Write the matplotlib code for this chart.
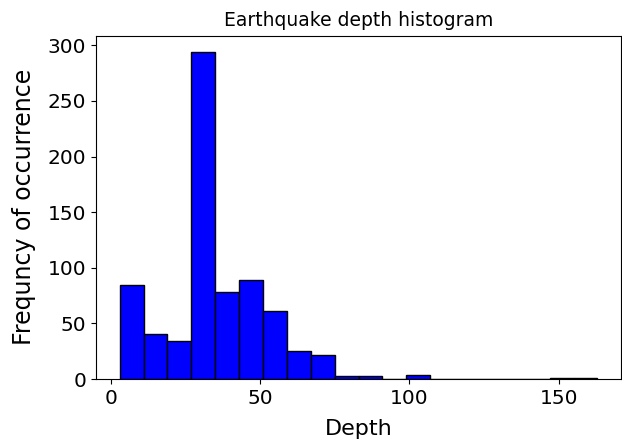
import matplotlib
matplotlib.use("Agg")
import matplotlib.pyplot as plt
import numpy as np

bin_edges = [3, 11, 19, 27, 35, 43, 51, 59, 67, 75, 83, 91, 99, 107, 115, 123, 131, 139, 147, 155, 163]
counts = [85, 41, 34, 294, 78, 89, 61, 25, 22, 3, 3, 0, 4, 0, 0, 0, 0, 0, 1, 1]
xticks = [0, 50, 100, 150]
yticks = [0, 50, 100, 150, 200, 250, 300]

edges = np.array(bin_edges, dtype=float)
centers = (edges[:-1] + edges[1:]) / 2

fig = plt.figure(figsize=(6.22, 4.45), dpi=100)
ax = fig.add_axes([0.154, 0.148, 0.845, 0.772])
ax.hist(centers, bins=edges, weights=counts, color="blue", edgecolor="black")
ax.set_xticks(xticks)
ax.set_yticks(yticks)
ax.tick_params(labelsize=14.5)
ax.set_xlabel("Depth", fontsize=16, labelpad=8)
ax.set_ylabel("Frequncy of occurrence", fontsize=17, labelpad=8)
ax.set_title("Earthquake depth histogram", fontsize=13.5, pad=7)
fig.savefig("out.png", dpi=100)
